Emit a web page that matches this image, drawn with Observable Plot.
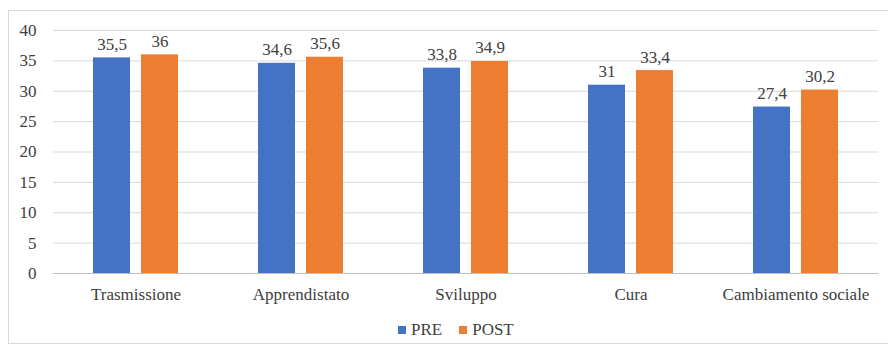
<!DOCTYPE html>
<html>
<head>
<meta charset="utf-8">
<script src="https://cdn.jsdelivr.net/npm/d3@7"></script>
<script src="https://cdn.jsdelivr.net/npm/@observablehq/plot@0.6"></script>
<style>
  html, body { margin: 0; padding: 0; background: #fff; }
  #frame { position: absolute; left: 8px; top: 10px; width: 888px; height: 334px; border: 1px solid #d9d9d9; box-sizing: border-box; }
  #chart { position: absolute; left: 0; top: 0; }
  #legend { position: absolute; left: 398px; top: 320px; display: flex; align-items: center; font-family: "Times New Roman", "Liberation Serif", Tinos, "DejaVu Serif", serif; font-size: 17px; color: #404040; }
  .sw { display: inline-block; width: 8px; height: 8px; margin-right: 5px; }
  .item { display: flex; align-items: center; margin-right: 17px; }
</style>
</head>
<body>
<div id="frame"></div>
<div id="chart"></div>
<div id="legend"></div>
<script>
const categories = ["Trasmissione", "Apprendistato", "Sviluppo", "Cura", "Cambiamento sociale"];
const series = ["PRE", "POST"];
const pre = [35.5, 34.6, 33.8, 31, 27.4];
const post = [36, 35.6, 34.9, 33.4, 30.2];
const yTicks = [0, 5, 10, 15, 20, 25, 30, 35, 40];
const colors = ["#4472C4", "#ED7D31"];

const data = categories.flatMap((c, i) => [
  {cat: c, s: "PRE", v: pre[i]},
  {cat: c, s: "POST", v: post[i]}
]);

const chart = Plot.plot({
  width: 888,
  height: 310,
  marginLeft: 52,
  marginRight: 10,
  marginTop: 30,
  marginBottom: 37,
  style: {fontFamily: "'Times New Roman', 'Liberation Serif', Tinos, 'DejaVu Serif', serif", fontSize: "17px", color: "#404040", background: "transparent"},
  fx: {domain: categories, padding: 0, label: null, axis: "bottom", tickSize: 0, tickPadding: 14},
  x: {domain: series, paddingInner: 0.229, paddingOuter: 0.833, axis: null},
  y: {domain: [0, 40], ticks: yTicks, label: null, tickSize: 0, tickPadding: 17},
  color: {domain: series, range: colors},
  marks: [
    Plot.gridY(yTicks, {stroke: "#d9d9d9", strokeOpacity: 1}),
    Plot.ruleY([0], {stroke: "#bfbfbf"}),
    Plot.barY(data, {fx: "cat", x: "s", y: "v", fill: "s"}),
    Plot.text(data, {fx: "cat", x: "s", y: "v", text: d => String(d.v).replace(".", ","), lineAnchor: "bottom", dy: -8, fill: "#404040"})
  ]
});
document.getElementById("chart").appendChild(chart);

const legend = document.getElementById("legend");
series.forEach((s, i) => {
  const item = document.createElement("div");
  item.className = "item";
  const sw = document.createElement("span");
  sw.className = "sw";
  sw.style.background = colors[i];
  item.appendChild(sw);
  item.appendChild(document.createTextNode(s));
  legend.appendChild(item);
});
</script>
</body>
</html>
